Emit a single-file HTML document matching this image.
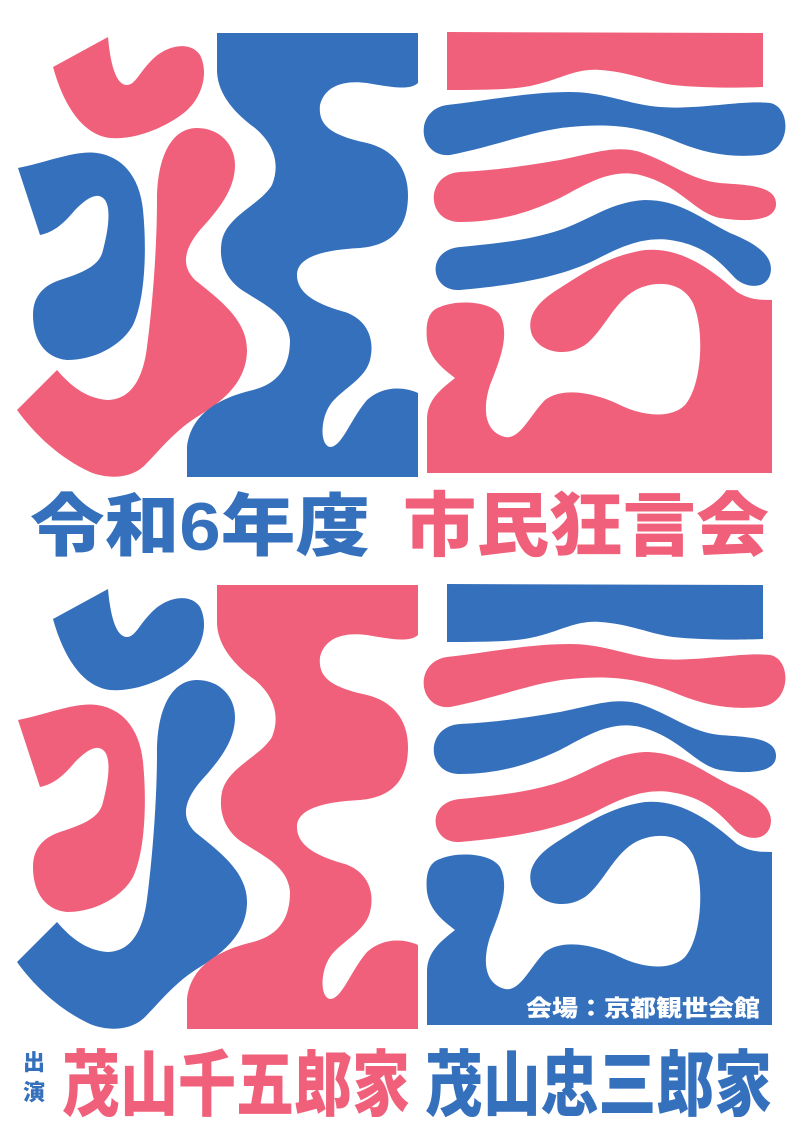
<!DOCTYPE html>
<html><head><meta charset="utf-8"><style>
html,body{margin:0;padding:0;background:#fff;}
svg{display:block;}
text{font-family:"Liberation Sans","Noto Sans CJK JP",sans-serif;font-weight:900;}
</style></head><body>
<svg width="800" height="1140" viewBox="0 0 800 1140">
<defs>
  <path id="hook" d="M53,67 L108,37 C110,60 115,85 127,85 C135,85 140,72 150,62 C165,45 190,40 200,55 C210,75 200,100 185,112 C165,128 135,140 110,138 C85,135 65,110 53,67 Z"/>
  <path id="three" d="M18,168 C45,163 75,150 97,153 C125,157 140,180 143,210 C147,250 145,300 133,325 C122,345 95,360 67,360 C45,358 33,340 33,315 C33,295 45,285 60,280 C85,272 100,265 103,250 C107,235 112,210 105,200 C97,190 85,200 75,210 C65,222 55,232 40,235 Z"/>
  <path id="stroke" d="M197,128 C220,128 235,145 235,165 C235,190 218,210 200,230 C185,248 180,265 195,280 C220,300 247,320 247,350 C247,380 225,400 200,415 C175,430 160,450 145,465 C132,478 110,480 90,472 C60,458 35,435 17,410 L57,370 C70,385 85,398 107,400 C130,400 143,380 147,347 C152,310 157,250 157,200 C157,160 170,128 197,128 Z"/>
  <path id="ebig" d="M217,33 L418,33 L418,83 C410,90 395,88 367,83 C345,80 325,85 320,105 C318,125 330,135 367,143 C395,150 408,170 408,195 C408,225 395,245 360,248 C320,250 297,258 297,275 C297,295 320,305 345,312 C368,320 375,340 370,360 C365,380 340,390 330,405 C320,420 320,445 330,447 C342,447 350,420 367,400 C380,388 400,385 418,393 L418,477 L187,477 L187,447 C190,420 210,400 253,390 C280,383 290,365 290,340 C288,315 265,305 245,292 C225,280 218,260 222,240 C228,215 260,205 272,185 C280,165 275,145 255,128 C230,110 217,90 217,70 Z"/>
  <path id="bar" d="M447,32 L763,33 L763,87 C740,88 700,88 673,85 C650,82 630,72 600,70 C575,68 560,80 530,86 C510,90 480,90 447,90 Z"/>
  <path id="wave1" d="M447,105 C490,100 530,92 570,92 C605,92 630,105 660,107 C700,110 740,100 770,103 C792,107 792,152 760,155 C730,158 705,153 680,143 C650,130 620,122 570,127 C535,130 500,145 450,155 C418,158 413,110 447,105 Z"/>
  <path id="wave2" d="M460,172 C500,170 530,165 560,160 C595,153 615,145 640,152 C670,162 690,180 720,183 C745,185 775,185 776,203 C777,222 745,222 720,218 C695,213 680,185 640,175 C610,168 585,185 560,198 C530,212 500,222 460,222 C425,222 425,174 460,172 Z"/>
  <path id="wave3" d="M460,247 C500,243 530,240 560,230 C590,220 610,202 645,200 C680,200 700,218 730,233 C760,245 775,258 770,275 C765,290 745,288 735,278 C720,262 705,245 670,240 C640,236 615,250 595,260 C565,275 520,285 460,290 C430,292 425,250 460,247 Z"/>
  <path id="mouth" d="M440,307 C455,300 490,300 500,315 C510,335 500,360 490,385 C482,410 485,432 505,437 C520,440 530,415 545,400 C565,385 600,395 620,405 C640,415 670,420 685,405 C702,385 705,330 693,303 C683,283 660,280 640,288 C615,298 605,330 585,345 C565,358 540,352 532,335 C525,315 540,300 560,288 C585,272 610,255 645,250 C680,247 710,268 737,292 C750,300 760,300 772,300 L772,473 L427,473 L427,420 C427,400 440,390 455,378 C445,370 430,360 427,340 C425,320 430,310 440,307 Z"/>
</defs>
<g>
  <use href="#hook" fill="#f0607a"/>
  <use href="#three" fill="#3570bd"/>
  <use href="#stroke" fill="#f0607a"/>
  <use href="#ebig" fill="#3570bd"/>
  <use href="#bar" fill="#f0607a"/>
  <use href="#wave1" fill="#3570bd"/>
  <use href="#wave2" fill="#f0607a"/>
  <use href="#wave3" fill="#3570bd"/>
  <use href="#mouth" fill="#f0607a"/>
</g>
<g>
  <text x="30" y="550" font-size="68" fill="#3570bd" textLength="340" lengthAdjust="spacingAndGlyphs">令和6年度</text>
  <text x="403" y="550" font-size="70" fill="#f0607a" textLength="366" lengthAdjust="spacingAndGlyphs">市民狂言会</text>
</g>
<g transform="translate(0,552)">
  <use href="#hook" fill="#3570bd"/>
  <use href="#three" fill="#f0607a"/>
  <use href="#stroke" fill="#3570bd"/>
  <use href="#ebig" fill="#f0607a"/>
  <use href="#bar" fill="#3570bd"/>
  <use href="#wave1" fill="#f0607a"/>
  <use href="#wave2" fill="#3570bd"/>
  <use href="#wave3" fill="#f0607a"/>
  <use href="#mouth" fill="#3570bd"/>
</g>
<text x="526" y="1016" font-size="23" fill="#fff" textLength="234" lengthAdjust="spacingAndGlyphs">会場：京都観世会館</text>
<text x="23" y="1070" font-size="22" fill="#3570bd">出</text>
<text x="23" y="1100" font-size="22" fill="#3570bd">演</text>
<text x="62" y="1110" font-size="72" fill="#f0607a" textLength="348" lengthAdjust="spacingAndGlyphs">茂山千五郎家</text>
<text x="425" y="1110" font-size="72" fill="#3570bd" textLength="347" lengthAdjust="spacingAndGlyphs">茂山忠三郎家</text>
</svg>
</body></html>
